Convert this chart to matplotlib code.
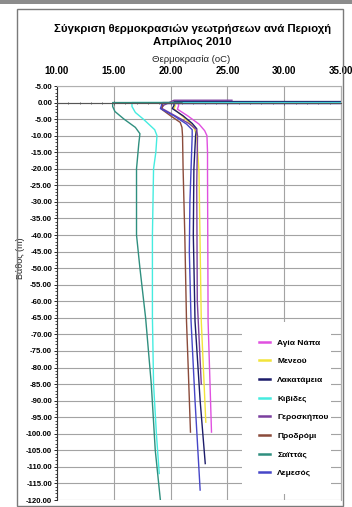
import matplotlib
matplotlib.use('Agg')
import matplotlib.pyplot as plt
from matplotlib.patches import Rectangle
from matplotlib.ticker import MultipleLocator, FuncFormatter

plt.rcParams['font.family'] = ['Liberation Sans', 'DejaVu Sans']

# temperature profiles (temp in C, depth in m) - first points are the surface readings
names = ['Αγία Νάπα', 'Μενεού', 'Λακατάμεια', 'Κιβίδες',
         'Γεροσκήπου', 'Προδρόμι', 'Σαϊττάς', 'Λεμεσός']
colors = ['#e050e0', '#f2e43a', '#1c1c6a', '#45ece0',
          '#7b3f9e', '#8b4b3b', '#2f8f7f', '#4646c8']

agia_napa_t = [21.0, 20.7, 20.7, 20.6, 21.5, 22.5, 23.0, 23.2, 23.25, 23.25, 23.3, 23.6]
agia_napa_d = [0.0, 0.0, -1.0, -2.0, -4.0, -6.5, -8.5, -10.0, -15.0, -21.0, -66.0, -99.5]

meneou_t = [30.0, 20.4, 20.4, 20.3, 21.0, 21.8, 22.1, 22.3, 22.5, 22.7, 23.1]
meneou_d = [0.0, 0.0, -1.0, -1.9, -4.0, -6.5, -8.0, -10.0, -21.0, -66.0, -96.5]

lakatamia_t = [35.0, 20.3, 20.3, 20.15, 21.1, 21.9, 22.3, 22.2, 22.05, 22.0, 22.15, 22.6, 23.05]
lakatamia_d = [0.3, 0.3, -0.9, -1.8, -4.0, -6.3, -7.9, -10.0, -20.0, -40.0, -66.0, -90.0, -109.0]

kivides_t = [35.0, 16.6, 16.6, 16.9, 17.6, 18.6, 18.8, 18.7, 18.5, 18.4, 18.4, 18.5, 18.75, 19.0]
kivides_d = [0.0, 0.0, -1.2, -3.0, -5.0, -8.2, -10.0, -15.0, -20.0, -40.0, -65.0, -85.0, -100.0, -112.0]

geroskipou_t = [25.4, 20.3, 19.4, 19.2, 20.3, 21.6, 22.3, 22.37, 22.3, 22.35, 22.7]
geroskipou_d = [0.7, 0.7, -0.8, -1.7, -3.8, -6.3, -8.2, -10.0, -25.0, -60.0, -85.0]

prodromi_t = [20.5, 19.3, 19.3, 19.2, 20.0, 20.85, 21.0, 21.05, 21.1, 21.25, 21.4, 21.55, 21.75]
prodromi_d = [0.0, 0.0, -1.0, -2.0, -4.0, -6.0, -7.5, -10.0, -20.0, -40.0, -66.0, -80.0, -99.5]

saittas_t = [21.0, 14.9, 14.9, 15.1, 15.9, 16.9, 17.3, 17.2, 17.0, 17.0, 17.3, 17.8, 18.3, 18.65, 19.1]
saittas_d = [0.0, 0.0, -1.2, -2.7, -5.0, -7.5, -9.4, -12.4, -20.0, -40.0, -50.0, -65.0, -85.0, -105.0, -120.0]

lemesos_t = [35.0, 19.2, 19.2, 19.1, 20.3, 21.4, 21.9, 21.9, 21.8, 21.7, 21.65, 21.8, 22.15, 22.6]
lemesos_d = [-0.3, -0.3, -0.9, -1.8, -4.0, -6.5, -8.2, -10.0, -20.0, -30.0, -45.0, -66.0, -90.0, -117.0]

temps = [agia_napa_t, meneou_t, lakatamia_t, kivides_t,
         geroskipou_t, prodromi_t, saittas_t, lemesos_t]
depths = [agia_napa_d, meneou_d, lakatamia_d, kivides_d,
          geroskipou_d, prodromi_d, saittas_d, lemesos_d]

W, H = 352, 507
fig = plt.figure(figsize=(W / 100, H / 100), dpi=100)

# page border strip and chart frame
fig.patches.append(Rectangle((0, 1 - 4 / H), 1, 4 / H, transform=fig.transFigure,
                             facecolor='#8c8c8c', edgecolor='none'))
fig.patches.append(Rectangle((17 / W, 1 / H), 326 / W, 497 / H, transform=fig.transFigure,
                             facecolor='none', edgecolor='#7a7a7a', lw=1.0))

ax = fig.add_axes([57 / W, 1 - 500 / H, 284 / W, 414 / H])

for t, d, c, n in zip(temps, depths, colors, names):
    ax.plot(t, d, color=c, lw=1.0, label=n)

ax.set_xlim(10, 35)
ax.set_ylim(-120, 5)
ax.xaxis.set_major_locator(MultipleLocator(5))
ax.xaxis.set_minor_locator(MultipleLocator(1))
ax.yaxis.set_major_locator(MultipleLocator(5))
ax.yaxis.set_minor_locator(MultipleLocator(1))
ax.xaxis.set_major_formatter(FuncFormatter(lambda v, p: '%.2f' % v))
ax.yaxis.set_major_formatter(FuncFormatter(lambda v, p: '0.00' if abs(v) < 1e-9 else '-%.2f' % abs(v)))

ax.grid(True, which='major', color='#a3a3a3', lw=0.8)
ax.set_axisbelow(True)

# x axis crosses at depth 0, labels sit on top
ax.spines['bottom'].set_position(('data', 0))
ax.spines['bottom'].set_color('#555555')
ax.spines['top'].set_color('#b0b0b0')
ax.spines['right'].set_color('#b0b0b0')
ax.spines['left'].set_color('#333333')
ax.tick_params(axis='x', which='both', top=False, labeltop=True, bottom=True,
               labelbottom=False, direction='inout', length=3, width=0.6,
               color='#555555', labelsize=7, pad=6)
ax.tick_params(axis='x', which='minor', length=2)
ax.tick_params(axis='y', which='major', direction='out', length=2.5, width=0.6,
               labelsize=5.6, pad=1)
ax.tick_params(axis='y', which='minor', direction='out', length=1.5, width=0.5)
for lab in ax.get_xticklabels() + ax.get_yticklabels():
    lab.set_fontweight('bold')

ax.set_ylabel('Βάθος (m)', fontsize=6.5, color='#222222')
ax.yaxis.set_label_coords(-0.113, 0.585)

fig.text(0.547, 1 - 29 / H, 'Σύγκριση θερμοκρασιών γεωτρήσεων ανά Περιοχή',
         ha='center', va='center', fontsize=8.2, fontweight='bold')
fig.text(0.547, 1 - 42 / H, 'Απρίλιος 2010',
         ha='center', va='center', fontsize=8.2, fontweight='bold')
fig.text(0.543, 1 - 59 / H, 'Θερμοκρασία (oC)',
         ha='center', va='center', fontsize=6.8, color='#222222')

leg = ax.legend(loc='lower left', bbox_to_anchor=(181 / 284, 2 / 414, 97 / 284, 172 / 414),
                mode='expand', prop={'weight': 'bold', 'size': 6.0},
                frameon=True, fancybox=False, edgecolor='none', facecolor='white',
                framealpha=1, handlelength=1.3, handletextpad=0.9,
                labelspacing=1.3, borderpad=2.0)
for h in leg.legend_handles:
    h.set_linewidth(1.8)

fig.savefig('out.png', dpi=100)
